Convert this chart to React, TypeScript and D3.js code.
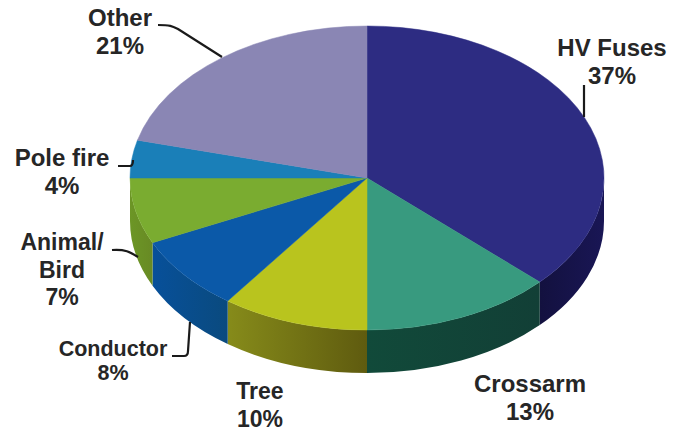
import React from "react";
import * as d3 from "d3";

const categories = ["HV Fuses", "Crossarm", "Tree", "Conductor", "Animal/Bird", "Pole fire", "Other"];
const shares = [37, 13, 10, 8, 7, 4, 21];
const topColors = ["#2d2c82", "#389a7f", "#b9c41e", "#0b59a8", "#7aac30", "#1a7fb8", "#8a86b4"];
const wallLight = ["#13113f", "#114a3a", "#868b1a", "#07509a", "#6c9626", "#1a7fb8", "#8a86b4"];
const wallDark = ["#191655", "#123f36", "#5f5b0f", "#0a4a7e", "#688a24", "#1a7fb8", "#8a86b4"];

type Label = { lines: string[]; x: number; y: number; size: number; gap: number };
const labels: Label[] = [
  { lines: ["HV Fuses", "37%"], x: 612, y: 56, size: 24, gap: 28 },
  { lines: ["Crossarm", "13%"], x: 530, y: 392, size: 24, gap: 28 },
  { lines: ["Tree", "10%"], x: 260, y: 399, size: 23, gap: 28 },
  { lines: ["Conductor", "8%"], x: 113, y: 356, size: 21.5, gap: 24 },
  { lines: ["Animal/", "Bird", "7%"], x: 62, y: 250, size: 23, gap: 27.5 },
  { lines: ["Pole fire", "4%"], x: 62, y: 166, size: 24, gap: 28 },
  { lines: ["Other", "21%"], x: 120, y: 26, size: 24, gap: 28 },
];
const leaders = [
  "M584,85 L584,117",
  "M158,25 C170,25 172,26 178,29 L222,57",
  "M118,166 L130,166 C132,166 133,164 133,160",
  "M112,250 C125,249 130,252 138,257",
  "M172,356 L184,356 C187,356 188,354 188,351 L190,322",
];

const cx = 367;
const cy = 178;
const rx = 237;
const ry = 152;
const depth = 43;

const pie = d3.pie<number>().sort(null);
const arcs = pie(shares);

// Ellipse point for a pie angle measured clockwise from twelve o'clock.
const px = (a: number) => cx + rx * Math.sin(a);
const py = (a: number) => cy - ry * Math.cos(a);

function topPath(start: number, end: number) {
  const large = end - start > Math.PI ? 1 : 0;
  return `M${cx},${cy} L${px(start)},${py(start)} A${rx},${ry} 0 ${large} 1 ${px(end)},${py(end)} Z`;
}

// Only the lower half of the ellipse shows a wall.
function wallPath(start: number, end: number) {
  const s = Math.max(start, Math.PI / 2);
  const e = Math.min(end, (3 * Math.PI) / 2);
  if (e <= s) return null;
  return (
    `M${px(s)},${py(s)} A${rx},${ry} 0 0 1 ${px(e)},${py(e)} ` +
    `L${px(e)},${py(e) + depth} A${rx},${ry} 0 0 0 ${px(s)},${py(s) + depth} Z`
  );
}

export default function App() {
  return (
    <svg
      width={683}
      height={434}
      viewBox="0 0 683 434"
      style={{ position: "absolute", left: 0, top: 0, background: "#fff" }}
      fontFamily="'Liberation Sans', Arial, sans-serif"
      fontWeight="bold"
    >
      <defs>
        {arcs.map((d, i) => (
          <linearGradient key={i} id={`wall-${i}`} x1="0" x2="1" y1="0" y2="0">
            <stop offset="0" stopColor={wallLight[i]} />
            <stop offset="1" stopColor={wallDark[i]} />
          </linearGradient>
        ))}
      </defs>
      <g>
        {arcs.map((d, i) => {
          const w = wallPath(d.startAngle, d.endAngle);
          return w ? <path key={categories[i]} d={w} fill={`url(#wall-${i})`} /> : null;
        })}
      </g>
      <g>
        {arcs.map((d, i) => (
          <path
            key={categories[i]}
            d={topPath(d.startAngle, d.endAngle)}
            fill={topColors[i]}
            stroke={topColors[i]}
            strokeWidth={0.5}
          />
        ))}
      </g>
      <g fill="none" stroke="#1a1a1a" strokeWidth={2.2}>
        {leaders.map((l) => (
          <path key={l} d={l} />
        ))}
      </g>
      <g fill="#262626" textAnchor="middle">
        {labels.map((l) => (
          <text key={l.lines[0]} x={l.x} y={l.y} fontSize={l.size}>
            {l.lines.map((t, j) => (
              <tspan key={t} x={l.x} dy={j === 0 ? 0 : l.gap}>
                {t}
              </tspan>
            ))}
          </text>
        ))}
      </g>
    </svg>
  );
}
